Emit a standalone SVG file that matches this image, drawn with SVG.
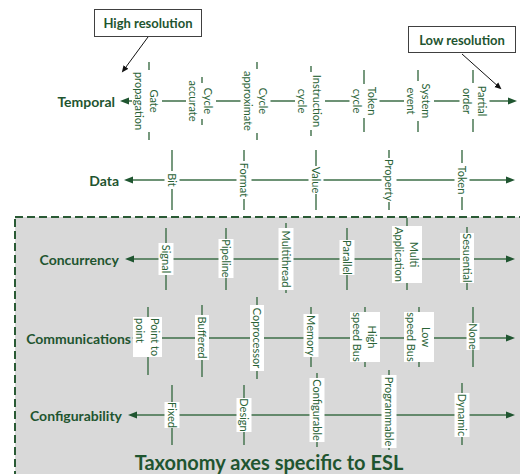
<svg xmlns="http://www.w3.org/2000/svg" width="520" height="474" viewBox="0 0 520 474">
  <style>
    .axis { stroke: #3d6e47; stroke-width: 1.4; fill: none; }
    .tick { stroke: #3d6e47; stroke-width: 1.4; }
    .axis-arrow { marker-start: url(#gh); marker-end: url(#gh); }
    .callout { stroke: #111; stroke-width: 1; fill: none; marker-end: url(#bh); }
    .box { fill: #ffffff; }
    .lbl { font-family: Lato, "Liberation Sans", sans-serif; font-size: 11px; fill: #2a6337; text-anchor: middle; dominant-baseline: central; }
    .lbl-start { text-anchor: start; }
    .head { font-family: Lato, "Liberation Sans", sans-serif; font-weight: bold; font-size: 14px; fill: #1f5530; text-anchor: end; dominant-baseline: central; }
    .note-box { fill: #ffffff; stroke: #404040; stroke-width: 1; }
    .note { font-family: Lato, "Liberation Sans", sans-serif; font-weight: bold; font-size: 13px; fill: #1f5530; text-anchor: middle; dominant-baseline: central; }
    .title { font-family: Lato, "Liberation Sans", sans-serif; font-weight: bold; font-size: 20px; fill: #1f5530; text-anchor: middle; }
    .esl { fill: #d9d9d9; stroke: #2a5a35; stroke-width: 2; stroke-dasharray: 8 4; }
  </style>
  <defs>
    <marker id="gh" markerUnits="userSpaceOnUse" markerWidth="10" markerHeight="8" refX="3" refY="4" orient="auto-start-reverse">
      <path d="M0,0.5 L9,4 L0,7.5 z" fill="#1f5530"/>
    </marker>
    <marker id="bh" markerUnits="userSpaceOnUse" markerWidth="8" markerHeight="8" refX="5" refY="3.5" orient="auto">
      <path d="M0,0.5 L7,3.5 L0,6.5 z" fill="#111"/>
    </marker>
  </defs>

  <rect width="520" height="474" fill="#ffffff"/>

  <!-- region for the ESL-specific axes -->
  <g id="esl-region">
    <rect class="esl" x="15" y="217" width="515" height="270"/>
  </g>

  <!-- axes, ticks and callout arrows -->
  <g id="connectors">
    <!-- Temporal -->
    <path class="axis axis-arrow" d="M126,101 H511"/>
    <line class="tick" x1="149" y1="62" x2="149" y2="140"/>
    <line class="tick" x1="202" y1="77" x2="202" y2="125"/>
    <line class="tick" x1="257" y1="62" x2="257" y2="140"/>
    <line class="tick" x1="311" y1="66" x2="311" y2="136"/>
    <line class="tick" x1="364" y1="70" x2="364" y2="132"/>
    <line class="tick" x1="418" y1="70" x2="418" y2="132"/>
    <line class="tick" x1="473" y1="70" x2="473" y2="132"/>
    <!-- Data -->
    <path class="axis axis-arrow" d="M130,180 H509"/>
    <line class="tick" x1="172" y1="150" x2="172" y2="210"/>
    <line class="tick" x1="244" y1="150" x2="244" y2="210"/>
    <line class="tick" x1="316" y1="150" x2="316" y2="210"/>
    <line class="tick" x1="389" y1="150" x2="389" y2="210"/>
    <line class="tick" x1="462" y1="150" x2="462" y2="210"/>
    <!-- Concurrency -->
    <path class="axis axis-arrow" d="M131,259 H509"/>
    <line class="tick" x1="166" y1="228" x2="166" y2="290"/>
    <line class="tick" x1="226" y1="228" x2="226" y2="290"/>
    <line class="tick" x1="286" y1="223" x2="286" y2="293"/>
    <line class="tick" x1="347" y1="228" x2="347" y2="290"/>
    <line class="tick" x1="407" y1="218" x2="407" y2="290"/>
    <line class="tick" x1="467" y1="227" x2="467" y2="290"/>
    <!-- Communications -->
    <path class="axis axis-arrow" d="M138,338 H509"/>
    <line class="tick" x1="148" y1="307" x2="148" y2="375"/>
    <line class="tick" x1="202" y1="305" x2="202" y2="377"/>
    <line class="tick" x1="257" y1="297" x2="257" y2="379"/>
    <line class="tick" x1="311" y1="307" x2="311" y2="367"/>
    <line class="tick" x1="365" y1="307" x2="365" y2="367"/>
    <line class="tick" x1="419" y1="307" x2="419" y2="367"/>
    <line class="tick" x1="473" y1="307" x2="473" y2="367"/>
    <!-- Configurability -->
    <path class="axis axis-arrow" d="M134,415 H509"/>
    <line class="tick" x1="172" y1="385" x2="172" y2="445"/>
    <line class="tick" x1="244" y1="385" x2="244" y2="445"/>
    <line class="tick" x1="317" y1="373" x2="317" y2="447"/>
    <line class="tick" x1="389" y1="370" x2="389" y2="450"/>
    <line class="tick" x1="462" y1="383" x2="462" y2="445"/>
    <!-- callouts -->
    <path class="callout" d="M148,37 L123,71"/>
    <path class="callout" d="M462,54 L500,88"/>
  </g>

  <!-- axis names -->
  <g id="temporal"><text class="head" x="115" y="101">Temporal</text></g>
  <g id="data"><text class="head" x="119" y="180">Data</text></g>
  <g id="concurrency"><text class="head" x="119" y="259">Concurrency</text></g>
  <g id="communications"><text class="head" x="131" y="338">Communications</text></g>
  <g id="configurability"><text class="head" x="122" y="415">Configurability</text></g>

  <!-- Temporal levels -->
  <g id="gate-propagation" transform="translate(147,101) rotate(90)">
    <rect class="box" x="-31" y="-15" width="62" height="30"/>
    <text class="lbl" y="-7.5">Gate</text><text class="lbl" y="7.5">propagation</text>
  </g>
  <g id="cycle-accurate" transform="translate(201,101) rotate(90)">
    <rect class="box" x="-18" y="-15" width="36" height="30"/>
    <text class="lbl" y="-7.5">Cycle</text><text class="lbl" y="7.5">accurate</text>
  </g>
  <g id="cycle-approximate" transform="translate(255.5,101) rotate(90)">
    <rect class="box" x="-32" y="-15" width="64" height="30"/>
    <text class="lbl" y="-7.5">Cycle</text><text class="lbl" y="7.5">approximate</text>
  </g>
  <g id="instruction-cycle" transform="translate(310,101) rotate(90)">
    <rect class="box" x="-29" y="-15" width="58" height="30"/>
    <text class="lbl" y="-7.5">Instruction</text><text class="lbl" y="7.5">cycle</text>
  </g>
  <g id="token-cycle" transform="translate(364.5,101) rotate(90)">
    <rect class="box" x="-17" y="-15" width="34" height="30"/>
    <text class="lbl" y="-7.5">Token</text><text class="lbl" y="7.5">cycle</text>
  </g>
  <g id="system-event" transform="translate(419,101) rotate(90)">
    <rect class="box" x="-20" y="-15" width="40" height="30"/>
    <text class="lbl" y="-7.5">System</text><text class="lbl" y="7.5">event</text>
  </g>
  <g id="partial-order" transform="translate(474.5,101) rotate(90)">
    <rect class="box" x="-18" y="-15" width="36" height="30"/>
    <text class="lbl" y="-7.5">Partial</text><text class="lbl" y="7.5">order</text>
  </g>

  <!-- Data levels -->
  <g id="bit" transform="translate(172,180) rotate(90)">
    <rect class="box" x="-9" y="-7.5" width="18" height="15"/><text class="lbl">Bit</text>
  </g>
  <g id="format" transform="translate(244,180) rotate(90)">
    <rect class="box" x="-19" y="-7.5" width="38" height="15"/><text class="lbl">Format</text>
  </g>
  <g id="value" transform="translate(316,180) rotate(90)">
    <rect class="box" x="-14" y="-7.5" width="28" height="15"/><text class="lbl">Value</text>
  </g>
  <g id="property" transform="translate(389,180) rotate(90)">
    <rect class="box" x="-22" y="-7.5" width="44" height="15"/><text class="lbl">Property</text>
  </g>
  <g id="token" transform="translate(462,180) rotate(90)">
    <rect class="box" x="-17" y="-7.5" width="34" height="15"/><text class="lbl">Token</text>
  </g>

  <!-- Concurrency levels -->
  <g id="signal" transform="translate(166,259) rotate(90)">
    <rect class="box" x="-16" y="-7.5" width="32" height="15"/><text class="lbl">Signal</text>
  </g>
  <g id="pipeline" transform="translate(226,258.5) rotate(90)">
    <rect class="box" x="-19.5" y="-7.5" width="39" height="15"/><text class="lbl">Pipeline</text>
  </g>
  <g id="multithread" transform="translate(286,259) rotate(90)">
    <rect class="box" x="-31" y="-7.5" width="62" height="15"/><text class="lbl">Multithread</text>
  </g>
  <g id="parallel" transform="translate(347,257.5) rotate(90)">
    <rect class="box" x="-17.5" y="-7.5" width="35" height="15"/><text class="lbl">Parallel</text>
  </g>
  <g id="multi-application" transform="translate(407,254.5) rotate(90)">
    <rect class="box" x="-28.5" y="-15" width="57" height="30"/>
    <text class="lbl" y="-7.5">Multi</text><text class="lbl" y="7.5">Application</text>
  </g>
  <g id="sesuential" transform="translate(467,258) rotate(90)">
    <rect class="box" x="-25" y="-7" width="50" height="14"/><text class="lbl">Sesuential</text>
  </g>

  <!-- Communications levels -->
  <g id="point-to-point" transform="translate(147.5,337) rotate(90)">
    <rect class="box" x="-20" y="-14.5" width="40" height="29"/>
    <text class="lbl lbl-start" x="-19" y="-7.5">Point to</text><text class="lbl lbl-start" x="-19" y="7.5">point</text>
  </g>
  <g id="buffered" transform="translate(202,337.5) rotate(90)">
    <rect class="box" x="-22.5" y="-7" width="45" height="14"/><text class="lbl">Buffered</text>
  </g>
  <g id="coprocessor" transform="translate(257,338) rotate(90)">
    <rect class="box" x="-33" y="-7" width="66" height="14"/><text class="lbl">Coprocessor</text>
  </g>
  <g id="memory" transform="translate(311,335.5) rotate(90)">
    <rect class="box" x="-21.5" y="-7.5" width="43" height="15"/><text class="lbl">Memory</text>
  </g>
  <g id="high-speed-bus" transform="translate(365,337) rotate(90)">
    <rect class="box" x="-25" y="-15" width="50" height="30"/>
    <text class="lbl" y="-7.5">High</text><text class="lbl" y="7.5">speed Bus</text>
  </g>
  <g id="low-speed-bus" transform="translate(419,337) rotate(90)">
    <rect class="box" x="-25" y="-15" width="50" height="30"/>
    <text class="lbl" y="-7.5">Low</text><text class="lbl" y="7.5">speed Bus</text>
  </g>
  <g id="none" transform="translate(473,336.5) rotate(90)">
    <rect class="box" x="-13.5" y="-6.5" width="27" height="13"/><text class="lbl">None</text>
  </g>

  <!-- Configurability levels -->
  <g id="fixed" transform="translate(172,415) rotate(90)">
    <rect class="box" x="-13" y="-7.5" width="26" height="15"/><text class="lbl">Fixed</text>
  </g>
  <g id="design" transform="translate(244,415) rotate(90)">
    <rect class="box" x="-17" y="-7.5" width="34" height="15"/><text class="lbl">Design</text>
  </g>
  <g id="configurable" transform="translate(317,410) rotate(90)">
    <rect class="box" x="-32" y="-7.5" width="64" height="15"/><text class="lbl">Configurable</text>
  </g>
  <g id="programmable" transform="translate(389,411.5) rotate(90)">
    <rect class="box" x="-36.5" y="-7.5" width="73" height="15"/><text class="lbl">Programmable</text>
  </g>
  <g id="dynamic" transform="translate(462,415) rotate(90)">
    <rect class="box" x="-22" y="-7.5" width="44" height="15"/><text class="lbl">Dynamic</text>
  </g>

  <!-- callout boxes -->
  <g id="high-resolution">
    <rect class="note-box" x="94.5" y="9.5" width="107" height="27"/>
    <text class="note" x="148" y="23">High resolution</text>
  </g>
  <g id="low-resolution">
    <rect class="note-box" x="408.5" y="26.5" width="107" height="26"/>
    <text class="note" x="462" y="40">Low resolution</text>
  </g>

  <g id="esl-title">
    <text class="title" x="269" y="470">Taxonomy axes specific to ESL</text>
  </g>
</svg>
